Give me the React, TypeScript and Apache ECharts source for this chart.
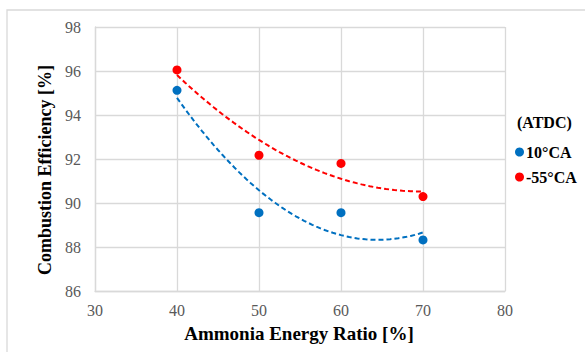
import React, { useEffect, useRef } from "react";
import * as echarts from "echarts";

const xValues = [40, 50, 60, 70];
const series10CA = [95.12, 89.56, 89.56, 88.32];
const series55CA = [96.05, 92.17, 91.8, 90.29];
const seriesNames = ["10°CA", "-55°CA"];
const colors = ["#0070C0", "#FF0000"];
const xTitle = "Ammonia Energy Ratio [%]";
const yTitle = "Combustion Efficiency [%]";
const legendTitle = "(ATDC)";

// Excel-style 2nd-order polynomial trendline (least squares) from the data
function polyFit2(xs: number[], ys: number[]) {
  const n = xs.length;
  let sx = 0, sx2 = 0, sx3 = 0, sx4 = 0, sy = 0, sxy = 0, sx2y = 0;
  for (let i = 0; i < n; i++) {
    const x = xs[i], y = ys[i];
    sx += x; sx2 += x * x; sx3 += x * x * x; sx4 += x * x * x * x;
    sy += y; sxy += x * y; sx2y += x * x * y;
  }
  const A = [
    [n, sx, sx2, sy],
    [sx, sx2, sx3, sxy],
    [sx2, sx3, sx4, sx2y],
  ];
  for (let i = 0; i < 3; i++) {
    for (let k = i + 1; k < 3; k++) {
      const f = A[k][i] / A[i][i];
      for (let j = i; j < 4; j++) A[k][j] -= f * A[i][j];
    }
  }
  const c = [0, 0, 0];
  for (let i = 2; i >= 0; i--) {
    let s = A[i][3];
    for (let j = i + 1; j < 3; j++) s -= A[i][j] * c[j];
    c[i] = s / A[i][i];
  }
  const out: number[][] = [];
  const x0 = xs[0], x1 = xs[xs.length - 1];
  for (let k = 0; k <= 60; k++) {
    const x = x0 + ((x1 - x0) * k) / 60;
    out.push([x, c[0] + c[1] * x + c[2] * x * x]);
  }
  return out;
}

export default function App() {
  const ref = useRef<HTMLDivElement>(null);
  useEffect(() => {
    document.body.style.margin = "0";
    const chart = echarts.init(ref.current!, null, { renderer: "svg" });
    const font = "Liberation Serif";
    const pts = (ys: number[]) => xValues.map((x, i) => [x, ys[i]]);
    chart.setOption({
      animation: false,
      backgroundColor: "#ffffff",
      textStyle: { fontFamily: font },
      grid: { left: 95, top: 27, right: 80, bottom: 61 },
      xAxis: {
        type: "value",
        min: 30,
        max: 80,
        interval: 10,
        axisLine: { show: true, lineStyle: { color: "#d9d9d9", width: 1.3 } },
        axisTick: { show: false },
        axisLabel: { color: "#595959", fontSize: 16, fontFamily: font, margin: 11 },
        splitLine: { show: true, lineStyle: { color: "#d9d9d9", width: 1.3 } },
      },
      yAxis: {
        type: "value",
        min: 86,
        max: 98,
        interval: 2,
        axisLine: { show: true, lineStyle: { color: "#d9d9d9", width: 1.3 } },
        axisTick: { show: false },
        axisLabel: { color: "#595959", fontSize: 16, fontFamily: font, margin: 14 },
        splitLine: { show: true, lineStyle: { color: "#d9d9d9", width: 1.3 } },
      },
      legend: {
        data: seriesNames,
        orient: "vertical",
        left: 510,
        top: 139,
        itemWidth: 9,
        itemHeight: 9,
        itemGap: 9,
        icon: "circle",
        textStyle: { fontFamily: font, fontWeight: "bold", fontSize: 16, color: "#000", padding: [0, 0, 0, -3] },
      },
      graphic: [
        {
          type: "rect",
          shape: { x: 7, y: 10, width: 700, height: 500 },
          style: { fill: "none", stroke: "#d9d9d9", lineWidth: 1.3 },
          silent: true,
          z: -1,
        },
        {
          type: "text",
          x: 517,
          y: 122,
          style: { text: legendTitle, font: `bold 16px ${font}`, fill: "#000", textVerticalAlign: "middle" },
        },
        {
          type: "text",
          x: 299,
          y: 333,
          style: { text: xTitle, font: `bold 19px ${font}`, fill: "#000", textAlign: "center", textVerticalAlign: "middle" },
        },
        {
          type: "text",
          x: 45,
          y: 170,
          rotation: Math.PI / 2,
          style: { text: yTitle, font: `bold 18px ${font}`, fill: "#000", textAlign: "center", textVerticalAlign: "middle" },
        },
      ],
      series: [
        {
          name: "trend-" + seriesNames[0],
          type: "line",
          data: polyFit2(xValues, series10CA),
          showSymbol: false,
          lineStyle: { color: colors[0], width: 2, type: [5, 3] },
          itemStyle: { color: colors[0] },
          z: 1,
        },
        {
          name: "trend-" + seriesNames[1],
          type: "line",
          data: polyFit2(xValues, series55CA),
          showSymbol: false,
          lineStyle: { color: colors[1], width: 2, type: [5, 3] },
          itemStyle: { color: colors[1] },
          z: 1,
        },
        {
          name: seriesNames[0],
          type: "scatter",
          data: pts(series10CA),
          symbolSize: 9,
          itemStyle: { color: colors[0], opacity: 1 },
          z: 3,
        },
        {
          name: seriesNames[1],
          type: "scatter",
          data: pts(series55CA),
          symbolSize: 9,
          itemStyle: { color: colors[1], opacity: 1 },
          z: 3,
        },
      ],
    });
    return () => chart.dispose();
  }, []);
  return <div ref={ref} style={{ width: 585, height: 352 }} />;
}
